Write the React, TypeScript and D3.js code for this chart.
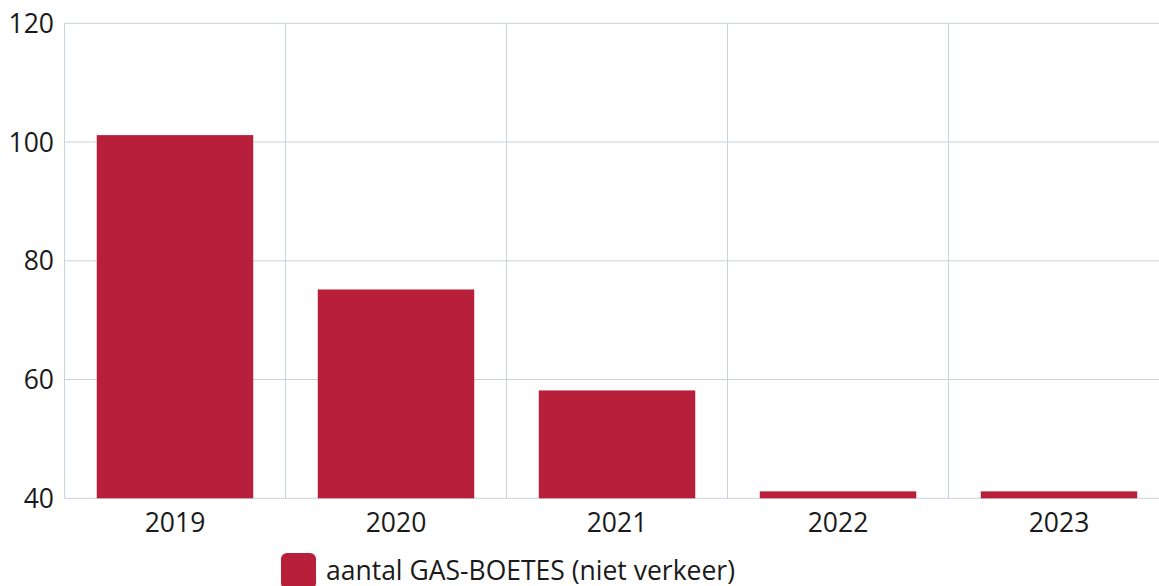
import React, { useEffect, useRef } from 'react';
import * as d3 from 'd3';

const categories = ['2019', '2020', '2021', '2022', '2023'];
const values = [101, 75, 58, 41, 41];
const yTicks = [40, 60, 80, 100, 120];
const seriesName = 'aantal GAS-BOETES (niet verkeer)';

const App: React.FC = () => {
  const svgRef = useRef<SVGSVGElement>(null);

  useEffect(() => {
    if (!svgRef.current) return;
    const svg = d3.select(svgRef.current);
    svg.selectAll('*').remove();

    const left = 64.5, top = 23.3, bottom = 498.3, right = 1169.5;
    const font = "'Open Sans', sans-serif";
    const grid = '#c9d1db';
    const barColor = '#b71f3a';

    const x = d3.scaleBand<string>().domain(categories).range([left, right]).padding(0);
    const y = d3.scaleLinear().domain([40, 120]).range([bottom, top]);

    // horizontal grid
    svg.append('g')
      .selectAll('line')
      .data(yTicks)
      .enter().append('line')
      .attr('x1', left).attr('x2', right)
      .attr('y1', d => y(d)).attr('y2', d => y(d))
      .attr('stroke', grid).attr('stroke-width', 1);

    // vertical grid at band boundaries
    svg.append('g')
      .selectAll('line')
      .data(categories)
      .enter().append('line')
      .attr('x1', d => x(d)!).attr('x2', d => x(d)!)
      .attr('y1', top).attr('y2', bottom)
      .attr('stroke', grid).attr('stroke-width', 1);

    // bars
    const bw = x.bandwidth();
    const inset = bw * 0.146;
    svg.append('g')
      .selectAll('rect')
      .data(categories)
      .enter().append('rect')
      .attr('x', d => x(d)! + inset)
      .attr('width', bw - 2 * inset)
      .attr('y', (d, i) => y(values[i]) - 1)
      .attr('height', (d, i) => bottom - y(values[i]) + 1)
      .attr('fill', barColor);

    // y labels
    svg.append('g')
      .selectAll('text')
      .data(yTicks)
      .enter().append('text')
      .attr('x', 54)
      .attr('y', d => y(d) + 9.5)
      .attr('text-anchor', 'end')
      .attr('font-family', font)
      .attr('font-size', 26.5)
      .attr('fill', '#1a1a1a')
      .text(d => d);

    // x labels
    svg.append('g')
      .selectAll('text')
      .data(categories)
      .enter().append('text')
      .attr('x', d => x(d)! + bw / 2)
      .attr('y', 532)
      .attr('text-anchor', 'middle')
      .attr('font-family', font)
      .attr('font-size', 26.5)
      .attr('fill', '#1a1a1a')
      .text(d => d);

    // legend
    const lg = svg.append('g');
    lg.append('rect')
      .attr('x', 281).attr('y', 553)
      .attr('width', 35).attr('height', 36)
      .attr('rx', 6)
      .attr('fill', barColor);
    lg.append('text')
      .attr('x', 326).attr('y', 580)
      .attr('font-family', font)
      .attr('font-size', 26.5)
      .attr('fill', '#1a1a1a')
      .text(seriesName);
  }, []);

  return (
    <svg
      ref={svgRef}
      width={1159}
      height={586}
      style={{ position: 'absolute', left: 0, top: 0, background: '#fff' }}
    />
  );
};

export default App;
